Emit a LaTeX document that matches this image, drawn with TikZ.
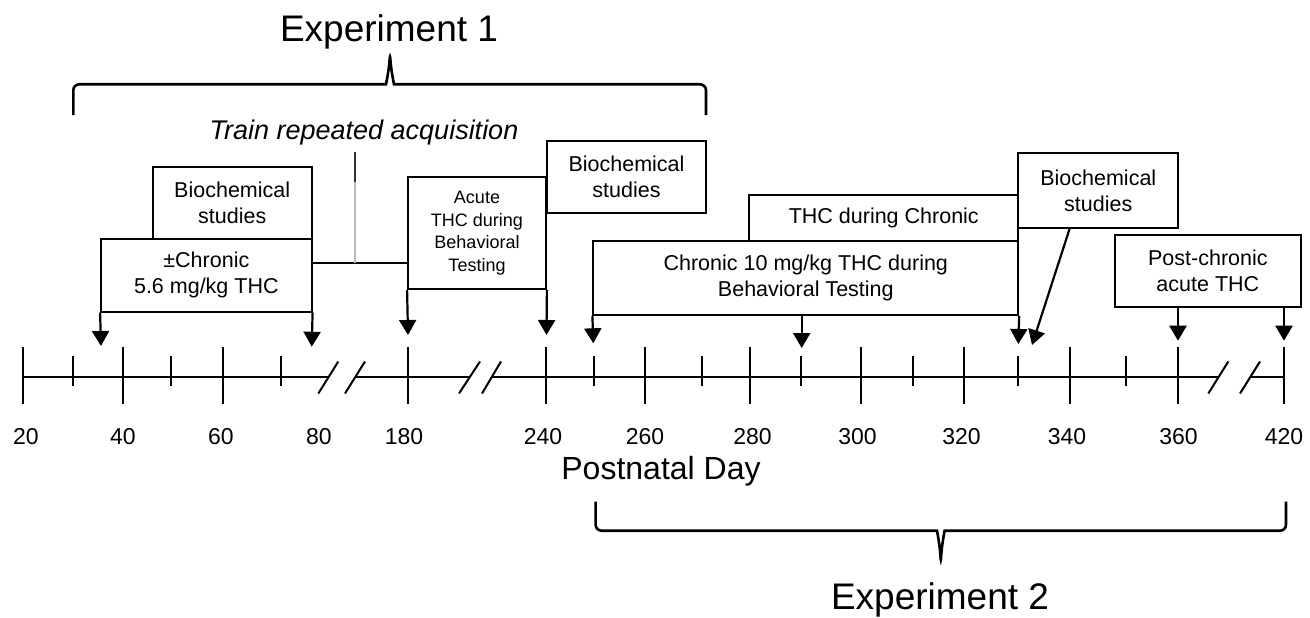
\documentclass[tikz,border=0pt]{standalone}
\usepackage{fontspec}
\setmainfont{Liberation Sans}
\usetikzlibrary{arrows.meta,calc}
\begin{document}
\begin{tikzpicture}[x=1pt,y=-1pt,
  box/.style={draw, line width=1.8pt, inner sep=0pt, align=center, font=\fontsize{21.5}{26}\selectfont},
  smallbox/.style={box, font=\fontsize{18}{22.6}\selectfont},
  arr/.style={line width=2.2pt, -{Triangle[width=17pt,length=15pt]}},
  axisline/.style={line width=1.8pt},
  tickline/.style={line width=1.6pt},
  brk/.style={line width=2pt},
  brace/.style={line width=2.6pt, rounded corners=6pt},
  ticklabel/.style={font=\fontsize{23}{23}\selectfont},
  bigtitle/.style={font=\fontsize{37}{37}\selectfont}
]
\useasboundingbox (0,0) rectangle (1310,618);

% titles and braces
\node[bigtitle] (exp1) at (389,31.7) {Experiment 1};
\draw[brace] (73.3,115) -- (73.3,84.3) -- (380,84.3)
  .. controls (386,84.3) and (389,70) .. (390,53.3)
  .. controls (391,70) and (394,84.3) .. (400,84.3) -- (706,84.3) -- (706,115);
\node[bigtitle] (exp2) at (940,600) {Experiment 2};
\draw[brace] (595.6,501.7) -- (595.6,530.7) -- (931,530.7)
  .. controls (937,530.7) and (940,546) .. (940.8,563.3)
  .. controls (941.6,546) and (944.6,530.7) .. (950.6,530.7) -- (1286,530.7) -- (1286,501.7);

\node[font=\itshape\fontsize{27}{27}\selectfont] (train) at (364,133) {Train repeated acquisition};

% boxes
\node[box, minimum width=159, minimum height=71.7] (bio1) at (232.2,203.15) {Biochemical\\studies};
\node[box, minimum width=210.7, minimum height=72.7] (chr1) at (206.35,275.35) {±Chronic\\5.6 mg/kg THC};
\node[smallbox, minimum width=138, minimum height=112] (acute) at (477,233.3) {Acute\\THC during\\Behavioral\\Testing};
\node[box, minimum width=159, minimum height=71.7] (bio2) at (626.5,176.85) {Biochemical\\studies};
\node[box, minimum width=425, minimum height=74] (chr10) at (805.8,278) {Chronic 10 mg/kg THC during\\Behavioral Testing};
\node[box, minimum width=269, minimum height=46] (thc) at (883.8,218) {THC during Chronic};
\node[box, minimum width=160, minimum height=74.4] (bio3) at (1098.3,190.5) {Biochemical\\studies};
\node[box, minimum width=185.7, minimum height=72.3] (post) at (1207.85,271.15) {Post-chronic\\acute THC};

% train repeated acquisition connector
\coordinate (j) at (355,263.3);
\coordinate (jtop) at (355,151.7);
\coordinate (jmid) at (355,181.7);
\draw[line width=1.8pt] (chr1.east |- j) -- (acute.west |- j);
\draw[line width=1.6pt, gray!55] (j) -- (jmid);
\draw[line width=1.6pt, black!80] (jmid) -- (jtop);

% arrow tips
\coordinate (t36) at (101,346);
\coordinate (t80) at (311.7,346.7);
\coordinate (t180) at (408,335);
\coordinate (t240) at (546.5,335);
\coordinate (t250) at (593.3,343.3);
\coordinate (t290) at (801.7,348);
\coordinate (t330) at (1018.3,344);
\coordinate (tdiag) at (1032,345);
\coordinate (t360) at (1178,340.7);
\coordinate (t420) at (1284,340.7);

\draw[arr] (chr1.south west) -- (t36);
\draw[arr] (chr1.south east) -- (t80);
\draw[arr] (acute.south west) -- (t180);
\draw[arr] (acute.south east) -- (t240);
\draw[arr] (chr10.south west) -- (t250);
\draw[arr] (t290 |- chr10.south) -- (t290);
\draw[arr] (chr10.south east) -- (t330);
\draw[arr] ($(bio3.south west)!0.323!(bio3.south east)$) -- (tdiag);
\draw[arr] (t360 |- post.south) -- (t360);
\draw[arr] (t420 |- post.south) -- (t420);

% axis
\draw[axisline] (23,377.3) -- (328.3,377.3);
\draw[axisline] (355,377.3) -- (469.5,377.3);
\draw[axisline] (491.5,377.3) -- (1218.3,377.3);
\draw[axisline] (1250,377.3) -- (1284,377.3);
\foreach \a/\b in {318.3/338.3, 345/365, 459/480, 482/501, 1208.3/1228.3, 1240/1260}
  \draw[brk] (\a,393.5) -- (\b,361.5);
\foreach \x in {23,123,223,408,546,645,750,861,964,1070,1178,1284}
  \draw[tickline] (\x,346.5) -- (\x,403.5);
\foreach \x in {73,171,281,594,702,801,913,1018,1126}
  \draw[tickline] (\x,355.5) -- (\x,385.5);
\foreach \x/\t in {26/20,123/40,221/60,319/80,404/180,543/240,645/260,752.6/280,857.5/300,961.5/320,1067/340,1178.5/360,1284/420}
  \node[ticklabel] at (\x,437) {\t};

\node[font=\fontsize{32}{32}\selectfont] (pnd) at (661,471) {Postnatal Day};
\end{tikzpicture}
\end{document}
